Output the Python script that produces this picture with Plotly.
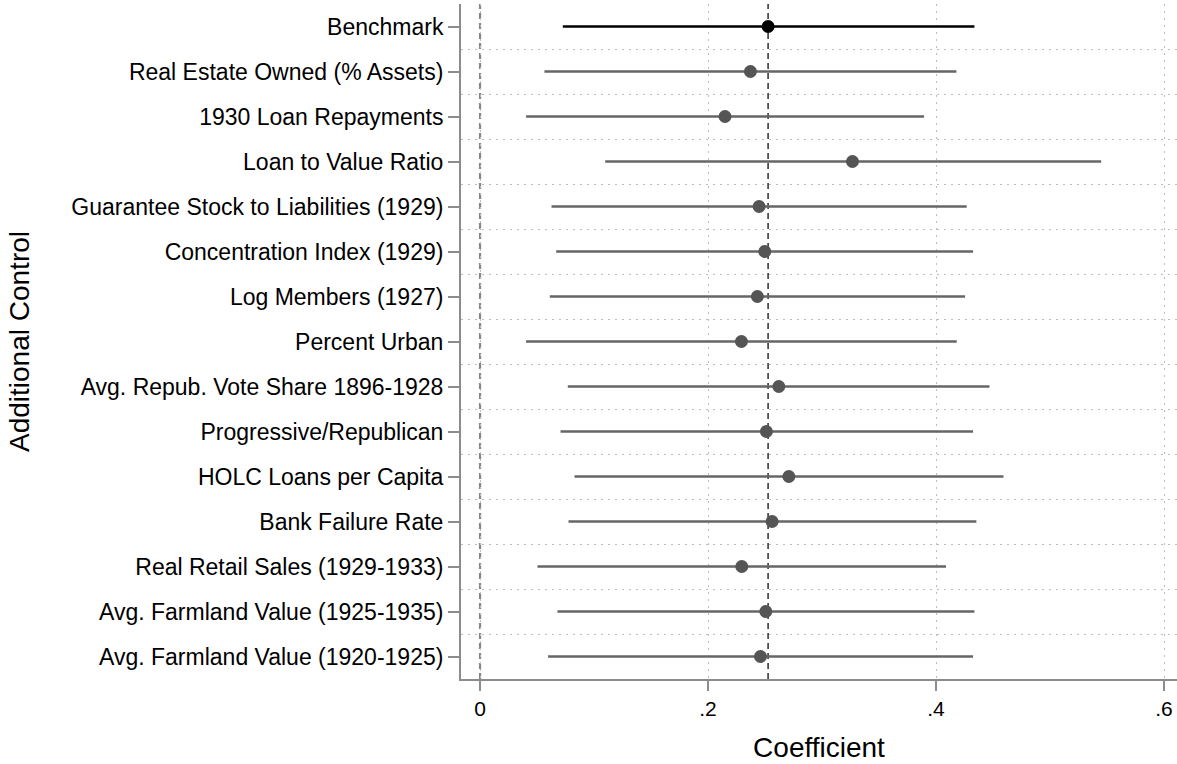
import plotly.graph_objects as go

controls = [
    "Benchmark",
    "Real Estate Owned (% Assets)",
    "1930 Loan Repayments",
    "Loan to Value Ratio",
    "Guarantee Stock to Liabilities (1929)",
    "Concentration Index (1929)",
    "Log Members (1927)",
    "Percent Urban",
    "Avg. Repub. Vote Share 1896-1928",
    "Progressive/Republican",
    "HOLC Loans per Capita",
    "Bank Failure Rate",
    "Real Retail Sales (1929-1933)",
    "Avg. Farmland Value (1925-1935)",
    "Avg. Farmland Value (1920-1925)",
]
coef = [0.2527, 0.2372, 0.2149, 0.3267, 0.2448, 0.2498, 0.2433, 0.2293,
        0.2621, 0.2512, 0.2709, 0.2562, 0.2296, 0.2507, 0.2460]
ci_low = [0.0726, 0.0565, 0.0404, 0.1098, 0.0627, 0.0668, 0.0612, 0.0404,
          0.0770, 0.0706, 0.0829, 0.0776, 0.0504, 0.0679, 0.0597]
ci_high = [0.4337, 0.4179, 0.3895, 0.5449, 0.4269, 0.4325, 0.4255, 0.4182,
           0.4469, 0.4325, 0.4592, 0.4354, 0.4088, 0.4337, 0.4325]
x_ticks = [0, 0.2, 0.4, 0.6]
x_tick_labels = ["0", ".2", ".4", ".6"]

pos = list(range(len(controls)))
FONT = "Liberation Sans, Arial, sans-serif"
GRID = "#bdbdbd"
GRID_DASH = "1.5px,5.5px"

fig = go.Figure()


def add_series(idx, marker_color, line_color, line_w):
    xs = [coef[i] for i in idx]
    fig.add_trace(go.Scatter(
        x=xs,
        y=[pos[i] for i in idx],
        mode="markers",
        marker=dict(color=marker_color, size=13, line=dict(width=0)),
        error_x=dict(
            type="data", symmetric=False,
            array=[ci_high[i] - coef[i] for i in idx],
            arrayminus=[coef[i] - ci_low[i] for i in idx],
            color=line_color, thickness=line_w, width=0,
        ),
        showlegend=False,
        hoverinfo="skip",
    ))


add_series(list(range(1, len(controls))), "#555555", "#666666", 2.6)
add_series([0], "#000000", "#000000", 2.4)

# reference lines: zero and benchmark estimate
fig.add_shape(type="line", xref="x", yref="paper", x0=0, x1=0, y0=0, y1=1,
              line=dict(color="#858585", width=2.2, dash="6px,4px"), layer="below")
fig.add_shape(type="line", xref="x", yref="paper", x0=coef[0], x1=coef[0],
              y0=0, y1=1,
              line=dict(color="#3a3a3a", width=1.6, dash="6px,4px"), layer="below")

fig.update_layout(
    width=1177, height=764,
    margin=dict(l=461, r=0, t=4, b=85),
    paper_bgcolor="white", plot_bgcolor="white",
    font=dict(family=FONT, color="#000000"),
)
fig.update_xaxes(
    range=[-0.0167, 0.6114],
    tickvals=x_ticks, ticktext=x_tick_labels,
    tickfont=dict(size=21, family=FONT, color="#000000"),
    ticks="outside", ticklen=10, tickwidth=1.5, tickcolor="#8c8c8c",
    showline=True, linecolor="#8c8c8c", linewidth=2,
    showgrid=True, gridcolor=GRID, gridwidth=1, griddash=GRID_DASH,
    zeroline=False,
    title=dict(text="Coefficient", font=dict(size=28, family=FONT), standoff=18),
)
fig.update_yaxes(
    range=[len(controls) - 0.5, -0.5],
    tickvals=pos, ticktext=controls,
    tickfont=dict(size=23, family=FONT, color="#000000"),
    ticks="outside", ticklen=11, tickwidth=1.5, tickcolor="#8c8c8c",
    showline=True, linecolor="#8c8c8c", linewidth=2,
    showgrid=False, zeroline=False,
    minor=dict(tick0=0.5, dtick=1, showgrid=True, gridcolor=GRID,
               gridwidth=1, griddash=GRID_DASH, ticks=""),
    title=dict(text="Additional Control", font=dict(size=28, family=FONT), standoff=34),
)

fig.write_html("out.html")
